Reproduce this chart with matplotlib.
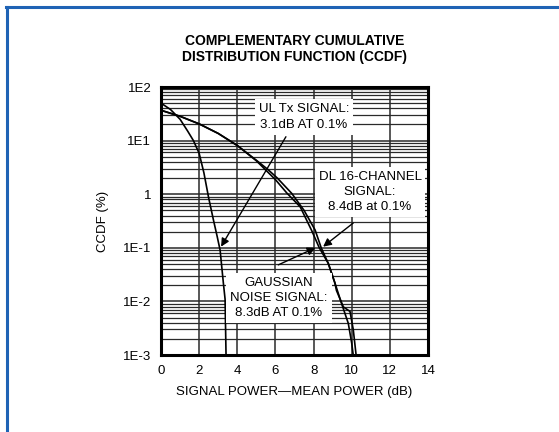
import matplotlib
matplotlib.use("Agg")
import matplotlib.pyplot as plt
from matplotlib.lines import Line2D
import numpy as np

plt.rcParams["font.family"] = ["Liberation Sans", "DejaVu Sans"]

# UL Tx signal
ul_db = [0.0, 0.5, 1.0, 1.4, 1.7, 2.0, 2.25, 2.5, 2.75, 2.95, 3.1, 3.27, 3.36, 3.41]
ul_ccdf = [50, 38, 25, 15, 10, 5.8, 2.5, 0.85, 0.33, 0.16, 0.09, 0.022, 0.011, 0.001]

# Gaussian noise signal
g_db = [0, 1, 2, 3, 4, 5, 6, 6.6, 7.3, 7.9, 8.3, 8.77, 9.12, 9.2, 9.47, 9.82, 10.0, 10.08]
g_ccdf = [36.8, 28.4, 20.5, 13.6, 8.1, 4.2, 1.87, 1.05, 0.58, 0.21, 0.1, 0.0513,
          0.022, 0.018, 0.0091, 0.0039, 0.00166, 0.001]

# DL 16-channel signal
dl_db = [0, 1, 2, 3, 4, 5, 5.6, 6.1, 6.85, 7.5, 8.08, 8.4, 8.77, 9.12, 9.2,
         9.56, 9.91, 10.08, 10.23]
dl_ccdf = [36.8, 28.4, 20.5, 13.6, 8.1, 4.3, 2.9, 2.0, 1.04, 0.5, 0.215, 0.1,
           0.0513, 0.022, 0.016, 0.0079, 0.0065, 0.003, 0.001]

x_ticks = [0, 2, 4, 6, 8, 10, 12, 14]
y_ticks = [1e2, 1e1, 1, 1e-1, 1e-2, 1e-3]
y_labels = ["1E2", "1E1", "1", "1E-1", "1E-2", "1E-3"]

W, H = 559, 432
fig = plt.figure(figsize=(W / 100, H / 100), dpi=100)
fig.patch.set_facecolor("white")

# blue frame (top and left)
blue = "#1f63b5"
fig.add_artist(Line2D([6 / W, 1], [1 - 6.5 / H, 1 - 6.5 / H], color=blue, lw=2.2,
                      transform=fig.transFigure))
fig.add_artist(Line2D([6.5 / W, 6.5 / W], [0, 1 - 6.5 / H], color=blue, lw=2.2,
                      transform=fig.transFigure))

ax = fig.add_axes([161 / W, 1 - 355 / H, 267 / W, 268 / H])
ax.set_yscale("log")
ax.set_xlim(0, 14)
ax.set_ylim(1e-3, 1e2)

# grid
for xv in x_ticks[1:-1]:
    ax.axvline(xv, color="#2a2a2a", lw=1.1, zorder=1)
for dec in range(-3, 2):
    for m in range(1, 10):
        v = m * 10.0 ** dec
        if v <= 1e-3:
            continue
        ax.axhline(v, color="#2a2a2a", lw=1.1 if m == 1 else 0.9, zorder=1)

ax.plot(ul_db, ul_ccdf, color="black", lw=1.2, zorder=3)
ax.plot(g_db, g_ccdf, color="black", lw=1.2, zorder=3)
ax.plot(dl_db, dl_ccdf, color="black", lw=1.2, zorder=3)

for s in ax.spines.values():
    s.set_linewidth(2.2)
    s.set_zorder(5)

fs = 9.5
ax.set_xticks(x_ticks)
ax.set_xticklabels([str(v) for v in x_ticks])
ax.set_yticks(y_ticks)
ax.set_yticklabels(y_labels)
ax.minorticks_off()
ax.tick_params(length=0, labelsize=fs, pad=7)
ax.set_xlabel("SIGNAL POWER\u2014MEAN POWER (dB)", fontsize=fs, labelpad=7)
ax.set_ylabel("CCDF (%)", fontsize=fs, labelpad=10)

box = dict(boxstyle="square,pad=0.3", fc="white", ec="none")
arrow = dict(arrowstyle="-|>", color="black", lw=1.0, mutation_scale=12,
             shrinkA=0, shrinkB=0)

ax.annotate("", xy=(3.15, 0.105), xytext=(6.55, 11.8), arrowprops=arrow, zorder=4)
ax.annotate("", xy=(8.5, 0.105), xytext=(10.08, 0.29), arrowprops=arrow, zorder=4)
ax.annotate("", xy=(8.1, 0.1), xytext=(6.15, 0.048), arrowprops=arrow, zorder=4)

ax.text(7.5, 27.6, "UL Tx SIGNAL:\n3.1dB AT 0.1%", ha="center", va="center",
        fontsize=fs, bbox=box, zorder=6, linespacing=1.35)
ax.text(10.96, 1.1, "DL 16-CHANNEL\nSIGNAL:\n8.4dB at 0.1%", ha="center",
        va="center", fontsize=fs, bbox=box, zorder=6, linespacing=1.35)
ax.text(6.19, 0.0116, "GAUSSIAN\nNOISE SIGNAL:\n8.3dB AT 0.1%", ha="center",
        va="center", fontsize=fs, bbox=box, zorder=6, linespacing=1.35)

fig.text(295 / W, 1 - 49 / H, "COMPLEMENTARY CUMULATIVE\nDISTRIBUTION FUNCTION (CCDF)",
         ha="center", va="center", fontsize=10, fontweight="bold", linespacing=1.25)

fig.savefig("out.png", dpi=100, facecolor="white")
